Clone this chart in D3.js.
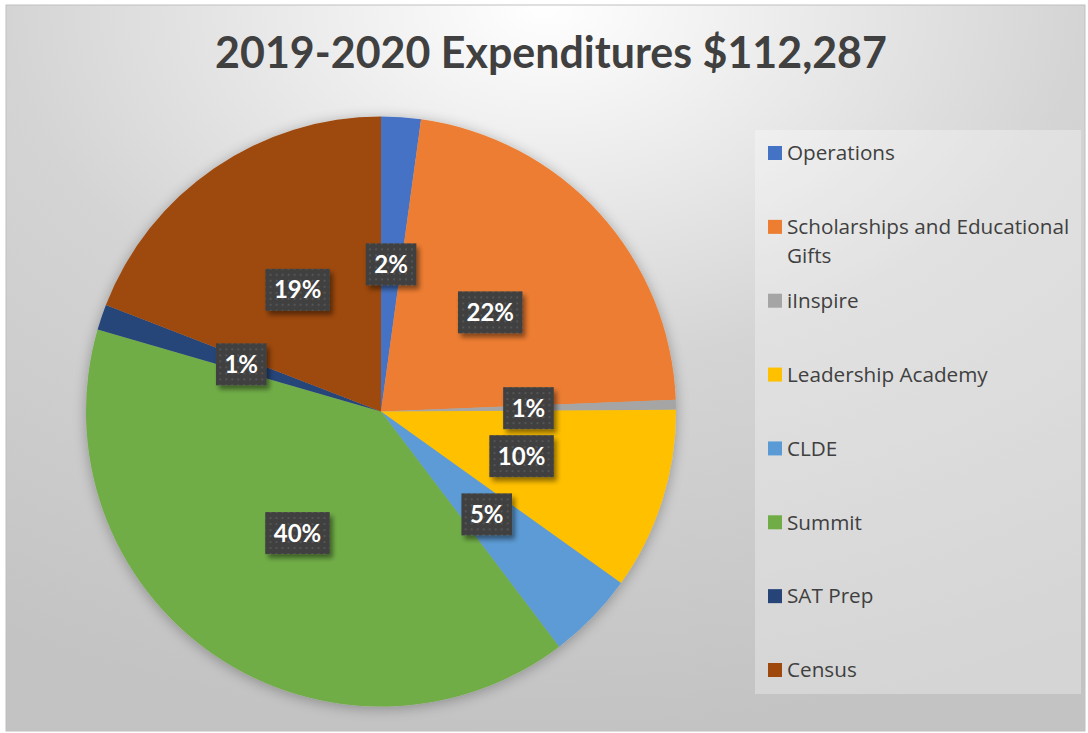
<!DOCTYPE html>
<html>
<head>
<meta charset="utf-8">
<script src="https://cdn.jsdelivr.net/npm/d3@7"></script>
<style>
  html, body { margin: 0; padding: 0; background: #fff; }
  svg { display: block; }
</style>
</head>
<body>
<svg id="chart" width="1088" height="733"></svg>
<script>
// data (dollars, total $112,287)
var categories = ["Operations", "Scholarships and Educational Gifts", "iInspire", "Leadership Academy",
                  "CLDE", "Summit", "SAT Prep", "Census"];
var amounts = [2437, 24928, 606, 11195, 5390, 44690, 1572, 21469];
var colours = ["#4472C4", "#ED7D31", "#A5A5A5", "#FFC000", "#5B9BD5", "#70AD47", "#264478", "#9E480E"];
var title = "2019-2020 Expenditures $112,287";

var svg = d3.select("#chart");
var defs = svg.append("defs");

// background: radial gradient, white at the top middle, grey towards the edges
var bg = defs.append("radialGradient").attr("id", "bgGrad")
    .attr("cx", "50%").attr("cy", "0%").attr("r", "100%").attr("fx", "50%").attr("fy", "0%");
bg.append("stop").attr("offset", "0%").attr("stop-color", "#ffffff");
bg.append("stop").attr("offset", "50%").attr("stop-color", "#d4d4d4");
bg.append("stop").attr("offset", "100%").attr("stop-color", "#c3c3c3");

// soft shadow round the pie
var pieShadow = defs.append("filter").attr("id", "pieShadow")
    .attr("x", "-20%").attr("y", "-20%").attr("width", "140%").attr("height", "140%");
pieShadow.append("feGaussianBlur").attr("in", "SourceAlpha").attr("stdDeviation", 7);
pieShadow.append("feOffset").attr("dx", 0).attr("dy", 2).attr("result", "blur");
pieShadow.append("feComponentTransfer").append("feFuncA").attr("type", "linear").attr("slope", 0.3);
var m1 = pieShadow.append("feMerge");
m1.append("feMergeNode");
m1.append("feMergeNode").attr("in", "SourceGraphic");

// shadow for the label boxes
var boxShadow = defs.append("filter").attr("id", "boxShadow")
    .attr("x", "-30%").attr("y", "-30%").attr("width", "170%").attr("height", "180%");
boxShadow.append("feGaussianBlur").attr("in", "SourceAlpha").attr("stdDeviation", 2.5);
boxShadow.append("feOffset").attr("dx", 3).attr("dy", 4);
boxShadow.append("feComponentTransfer").append("feFuncA").attr("type", "linear").attr("slope", 0.45);
var m2 = boxShadow.append("feMerge");
m2.append("feMergeNode");
m2.append("feMergeNode").attr("in", "SourceGraphic");

// dotted dark fill of the label boxes
var pat = defs.append("pattern").attr("id", "dots")
    .attr("patternUnits", "userSpaceOnUse").attr("width", 6).attr("height", 6);
pat.append("rect").attr("width", 6).attr("height", 6).attr("fill", "#404040");
pat.append("rect").attr("x", 2).attr("y", 2).attr("width", 2).attr("height", 2).attr("fill", "#545454");

// chart area
svg.append("rect")
    .attr("x", 6).attr("y", 5).attr("width", 1079).attr("height", 726)
    .attr("fill", "url(#bgGrad)")
    .attr("stroke", "#bfbfbf").attr("stroke-width", 1);

// title, sized to the width it has in the picture
var titleText = svg.append("text")
    .attr("x", 551).attr("y", 68)
    .attr("text-anchor", "middle")
    .attr("font-family", "Lato, 'Open Sans', sans-serif")
    .attr("font-weight", "bold")
    .attr("font-size", 40)
    .attr("fill", "#404040")
    .text(title);
var tw = titleText.node().getComputedTextLength();
titleText.attr("font-size", 40 * 672 / tw);

// pie
var cx = 381, cy = 411.5, radius = 295;
var total = d3.sum(amounts);
var pct = d3.format(".0%");

var pie = d3.pie().sort(null).value(function(d) { return d; });
var arcs = pie(amounts);
var arc = d3.arc().innerRadius(0).outerRadius(radius);
var colour = d3.scaleOrdinal().domain(categories).range(colours);

var g = svg.append("g").attr("transform", "translate(" + cx + "," + cy + ")");

g.append("g")
    .attr("filter", "url(#pieShadow)")
    .selectAll("path")
    .data(arcs)
    .enter().append("path")
    .attr("d", arc)
    .attr("fill", function(d, i) { return colour(categories[i]); });

// data labels at the centroids
var labels = g.append("g").selectAll("g.lbl")
    .data(arcs)
    .enter().append("g")
    .attr("class", "lbl")
    .attr("transform", function(d) { var c = arc.centroid(d); return "translate(" + c[0] + "," + c[1] + ")"; });

labels.each(function(d) {
  var lg = d3.select(this);
  var box = lg.append("rect").attr("fill", "url(#dots)").attr("filter", "url(#boxShadow)");
  var t = lg.append("text")
      .attr("text-anchor", "middle")
      .attr("dy", "0.36em")
      .attr("font-family", "Lato, 'Open Sans', sans-serif")
      .attr("font-weight", "bold")
      .attr("font-size", 24)
      .attr("fill", "#ffffff")
      .text(pct(d.value / total));
  var w = t.node().getComputedTextLength() + 17;
  box.attr("x", -w / 2).attr("y", -21).attr("width", w).attr("height", 42);
});

// legend
svg.append("rect")
    .attr("x", 755).attr("y", 130).attr("width", 326).attr("height", 564)
    .attr("fill", "#ffffff").attr("fill-opacity", 0.3);

var ly = d3.scalePoint().domain(categories).range([153, 670]);

var items = svg.append("g").selectAll("g")
    .data(categories)
    .enter().append("g")
    .attr("transform", function(d) { return "translate(768," + ly(d) + ")"; });

items.append("rect")
    .attr("x", 0).attr("y", -7).attr("width", 14).attr("height", 14)
    .attr("fill", function(d) { return colour(d); });

items.append("text")
    .attr("x", 19)
    .attr("font-family", "'Open Sans', sans-serif")
    .attr("font-size", 20.7)
    .attr("fill", "#404040")
    .each(function(d) {
      // wrap to the legend width
      var el = d3.select(this), words = d.split(" "), line = [];
      var ts = el.append("tspan").attr("x", 19).attr("dy", "0.35em");
      words.forEach(function(wd) {
        line.push(wd);
        ts.text(line.join(" "));
        if (ts.node().getComputedTextLength() > 295 && line.length > 1) {
          line.pop();
          ts.text(line.join(" "));
          line = [wd];
          ts = el.append("tspan").attr("x", 19).attr("dy", 29).text(wd);
        }
      });
    });
</script>
</body>
</html>
